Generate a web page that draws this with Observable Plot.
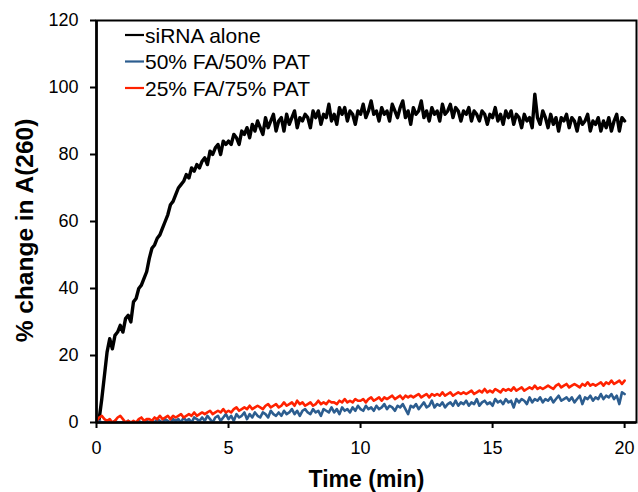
<!DOCTYPE html>
<html>
<head>
<meta charset="utf-8">
<script src="https://cdn.jsdelivr.net/npm/d3@7"></script>
<script src="https://cdn.jsdelivr.net/npm/@observablehq/plot@0.6"></script>
<style>
  html, body { margin: 0; padding: 0; background: #fff; }
  #chart { width: 638px; height: 492px; }
  svg { font-family: "Liberation Sans", Arial, Helvetica, sans-serif; }
</style>
</head>
<body>
<div id="chart"></div>
<script>
// ---- data ----
const seriesNames = ["siRNA alone", "50% FA/50% PAT", "25% FA/75% PAT"];
const seriesColors = ["#000000", "#2c5d8f", "#ff2200"];
const xTicks = [0, 5, 10, 15, 20];
const yTicks = [0, 20, 40, 60, 80, 100, 120];

const time = [
 0,0.1,0.2,0.3,0.4,0.5,0.6,0.7,0.8,0.9,
 1,1.1,1.2,1.3,1.4,1.5,1.6,1.7,1.8,1.9,
 2,2.1,2.2,2.3,2.4,2.5,2.6,2.7,2.8,2.9,
 3,3.1,3.2,3.3,3.4,3.5,3.6,3.7,3.8,3.9,
 4,4.1,4.2,4.3,4.4,4.5,4.6,4.7,4.8,4.9,
 5,5.1,5.2,5.3,5.4,5.5,5.6,5.7,5.8,5.9,
 6,6.1,6.2,6.3,6.4,6.5,6.6,6.7,6.8,6.9,
 7,7.1,7.2,7.3,7.4,7.5,7.6,7.7,7.8,7.9,
 8,8.1,8.2,8.3,8.4,8.5,8.6,8.7,8.8,8.9,
 9,9.1,9.2,9.3,9.4,9.5,9.6,9.7,9.8,9.9,
 10,10.1,10.2,10.3,10.4,10.5,10.6,10.7,10.8,10.9,
 11,11.1,11.2,11.3,11.4,11.5,11.6,11.7,11.8,11.9,
 12,12.1,12.2,12.3,12.4,12.5,12.6,12.7,12.8,12.9,
 13,13.1,13.2,13.3,13.4,13.5,13.6,13.7,13.8,13.9,
 14,14.1,14.2,14.3,14.4,14.5,14.6,14.7,14.8,14.9,
 15,15.1,15.2,15.3,15.4,15.5,15.6,15.7,15.8,15.9,
 16,16.1,16.2,16.3,16.4,16.5,16.6,16.7,16.8,16.9,
 17,17.1,17.2,17.3,17.4,17.5,17.6,17.7,17.8,17.9,
 18,18.1,18.2,18.3,18.4,18.5,18.6,18.7,18.8,18.9,
 19,19.1,19.2,19.3,19.4,19.5,19.6,19.7,19.8,19.9,
 20
];

const siRNAalone = [
 0,1,7,14,21,25,22,26,27,29,
 27,31,32,30,36,37,40,41,43,45,
 49,52,53,55,56,58,60,62,65,66,
 68,70,71,72,74,73,76,75,77,76,
 78,79,77,81,80,82,83,80,84,83,
 84,83,86,85,83,87,86,88,85,89,
 87,90,88,86,91,88,90,92,87,90,
 91,87,92,89,91,93,88,91,90,92,
 91,88,93,91,93,89,92,91,95,90,
 92,89,94,92,94,90,93,92,89,93,
 92,95,91,93,96,92,93,90,94,92,
 93,90,95,93,91,94,96,91,93,89,
 94,92,93,96,91,93,90,94,92,93,
 90,95,92,93,95,91,94,93,90,93,
 92,94,90,93,92,90,93,92,89,92,
 91,94,90,92,89,93,91,93,89,92,
 91,88,92,90,91,88,98,91,89,93,
 91,88,92,89,91,87,91,90,92,88,
 91,90,87,91,89,90,92,87,90,89,
 91,87,90,88,91,87,90,92,87,91,
 90
];

const fa50pat50 = [
 0,0.5,0,0,0.5,0,0,0.5,0,0,
 0,0,0.5,0,0,0,0.5,0,0,0.5,
 0,0.5,0,1,0.5,0,1,0.5,0,1,
 0.5,1,0,1.5,0.5,1,0,1.5,1,0.5,
 1.5,0.5,2,1,0,1.5,2,0.5,1.5,2.5,
 1,2,0.5,2.5,1.5,2,3,1,2.5,1.5,
 3,2,1.5,3,2.5,1.5,3.5,2.5,2,3,
 2,3.5,2.5,3,4,2.5,3.5,2,3.5,4,
 3,2.5,4,3,3.5,2,4,3.5,3,4.5,
 3,4,2.5,4.5,3.5,4,3,4.5,3.5,5,
 4,3.5,5,4,4.5,3.5,5,4,4.5,5.5,
 4,5,4.5,3.5,5,4.5,5.5,4,2.5,5,
 4.5,5.5,4,5,6,4.5,5,6.5,4.5,5.5,
 5,6,4.5,5.5,6,5,6.5,5,6,5.5,
 6.5,5,6,5.5,7,5,6,6.5,5.5,6,
 5,7,6,6.5,5.5,7,6,6.5,4.5,7,
 6,7,6.5,5.5,7.5,6,7,6.5,7.5,6,
 7,6.5,7.5,6,7,8,6.5,7,7.5,6.5,
 7.5,6,7,8,5.5,7.5,7,8,6.5,7.5,
 7,8.5,7,8,7.5,8.5,7,8,5.5,9,
 8.5
];

const fa25pat75 = [
 0.5,1.5,2,1,0.5,1,0,0.5,1.5,2,
 1,0,0.5,0,0.5,0,1,1.5,0.5,1,
 1,0.5,1.5,1,2,1,1.5,2,1,2,
 1.5,2,2.5,1.5,2,2.5,2,3,2,2.5,
 3,2.5,3,3.5,2.5,3,3.5,3,4,3,
 3.5,3,4,4.5,3.5,4,4.5,4,5,4,
 4.5,5,4.5,4,5,5.5,4.5,5,5.5,4.5,
 5,6,5,5.5,6,5,6.5,5.5,6,5,
 5.5,6,5,5.5,6.5,5.5,6,5.5,6.5,6,
 6,5.5,6.5,6,7,6,6.5,6,7,6.5,
 6.5,7,6,7,7.5,6.5,7,7.5,6.5,7.5,
 7,7.5,8,7,7.5,8,7,8,7.5,8,
 7.5,8,8.5,7.5,8,8.5,7.5,8.5,8,8.5,
 8,9,8,8.5,9,8,8.5,9,8.5,9,
 8.5,9,9.5,8.5,9,9.5,9,10,9,9.5,
 9,10,9.5,9,10,9.5,10,9.5,10.5,9.5,
 10,10.5,9.5,10,10.5,10,11,10,10.5,10,
 10.5,11,10.5,10,11,11.5,10.5,11,11.5,10.5,
 11,11.5,11,10.5,11.5,11,12,11,11.5,11,
 11.5,12,11,12,11.5,12.5,11.5,12,12.5,11.5,
 12.5
];

const seriesValues = [siRNAalone, fa50pat50, fa25pat75];
const seriesWidths = [3.4, 2.6, 2.6];

// ---- build table ----
const rows = [];
seriesNames.forEach((name, s) => {
  seriesValues[s].forEach((v, i) => rows.push({series: name, t: time[i], v}));
});

// legend drawn in pixel layout inside the plot frame
function legendMark(index, scales, values, dims) {
  const g = d3.create("svg:g").attr("text-anchor", "start");
  const x0 = dims.marginLeft + 29, lineLen = 19, rowH = 26.5, y0 = dims.marginTop + 15;
  seriesNames.forEach((name, i) => {
    const y = y0 + i * rowH;
    g.append("line")
      .attr("x1", x0).attr("x2", x0 + lineLen)
      .attr("y1", y).attr("y2", y)
      .attr("stroke", seriesColors[i]).attr("stroke-width", 2.2);
    g.append("text")
      .attr("x", x0 + lineLen + 1).attr("y", y)
      .attr("dy", "0.36em")
      .attr("text-anchor", "start")
      .attr("font-size", 21)
      .attr("fill", "#000")
      .text(name);
  });
  return g.node();
}

const W = 638, H = 492;
const chart = Plot.plot({
  width: W,
  height: H,
  marginLeft: 96,
  marginRight: 2,
  marginTop: 20,
  marginBottom: 70,
  style: {fontFamily: '"Liberation Sans", Arial, sans-serif', background: "#fff"},
  x: {domain: [0, 20.45], ticks: xTicks, label: null},
  y: {domain: [0, 120], ticks: yTicks, label: null},
  marks: [
    Plot.frame({stroke: "#000", strokeWidth: 2}),
    ...seriesNames.map((name, s) =>
      Plot.line(rows.filter(d => d.series === name), {
        x: "t", y: "v", stroke: seriesColors[s], strokeWidth: seriesWidths[s],
        strokeLinejoin: "round", clip: true
      })
    ),
    Plot.ruleX([0], {stroke: "#000", strokeWidth: 2.6}),
    Plot.ruleY([0], {stroke: "#000", strokeWidth: 2.6}),
    Plot.axisX({ticks: xTicks, tickSize: 6, tickPadding: 13, fontSize: 18, strokeWidth: 2, label: null}),
    Plot.axisY({ticks: yTicks, tickSize: 6, tickPadding: 12, fontSize: 18, strokeWidth: 2, label: null}),
    Plot.text(["Time (min)"], {frameAnchor: "bottom", dy: 64, fontSize: 23, fontWeight: "bold", fill: "#000"}),
    Plot.text(["% change in A(260)"], {frameAnchor: "left", textAnchor: "middle", dx: -71, dy: 9, rotate: -90, fontSize: 24.5, fontWeight: "bold", fill: "#000"}),
    legendMark
  ]
});
document.getElementById("chart").appendChild(chart);
</script>
</body>
</html>
